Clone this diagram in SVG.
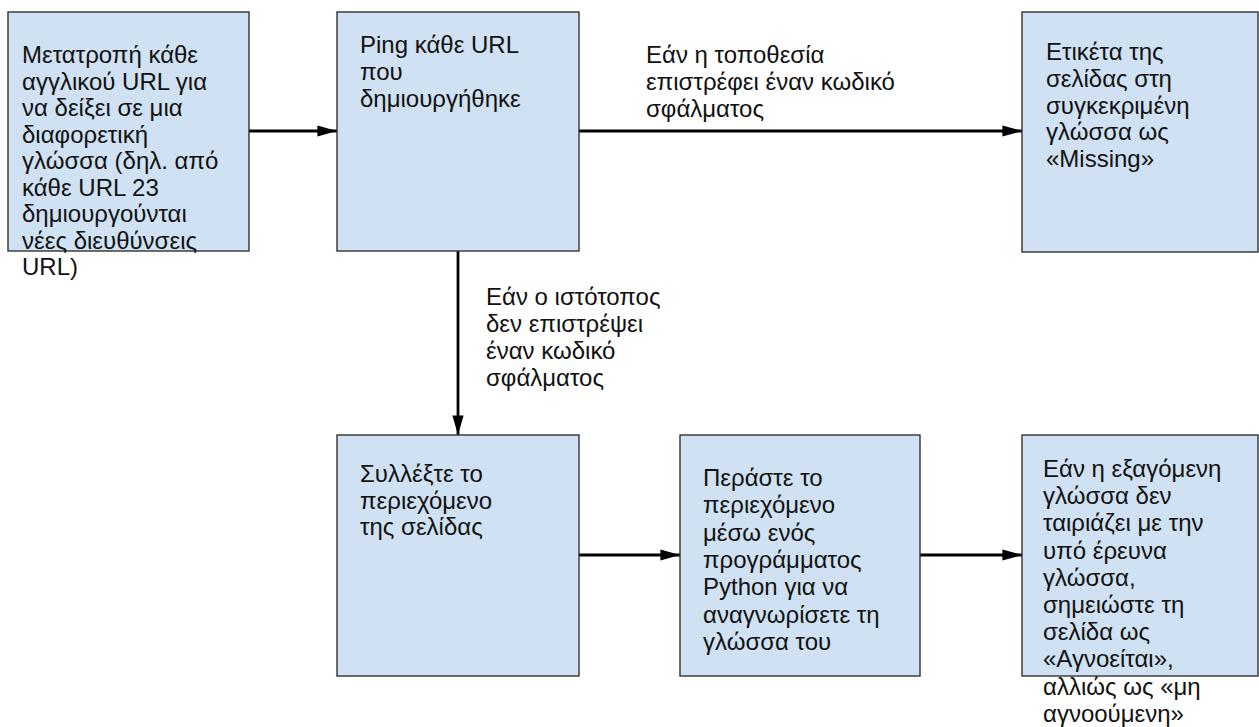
<svg xmlns="http://www.w3.org/2000/svg" width="1259" height="727" viewBox="0 0 1259 727">
<defs>
<style>
.box{fill:#cfe1f2;stroke:#333;stroke-width:1.4}
.t{font-family:"Liberation Sans",Arial,sans-serif;font-size:24px;fill:#111}
.c{stroke:#000;stroke-width:2.8;fill:none;marker-end:url(#ah)}
</style>
<marker id="ah" markerWidth="7" markerHeight="4" refX="7" refY="2" orient="auto" markerUnits="strokeWidth">
<path d="M0,0 L7,2 L0,4 Z" fill="#000"/>
</marker>
</defs>
<rect width="1259" height="727" fill="#fff"/>
<g id="connectors">
<line class="c" x1="249" y1="131" x2="337" y2="131"/>
<line class="c" x1="579" y1="131" x2="1022" y2="131"/>
<line class="c" x1="458" y1="251" x2="458" y2="435"/>
<line class="c" x1="579" y1="555" x2="680" y2="555"/>
<line class="c" x1="920" y1="555" x2="1022" y2="555"/>
<text class="t"><tspan x="646" y="63">Εάν η τοποθεσία</tspan><tspan x="646" y="90">επιστρέφει έναν κωδικό</tspan><tspan x="646" y="117">σφάλματος</tspan></text>
<text class="t"><tspan x="486" y="305">Εάν ο ιστότοπος</tspan><tspan x="486" y="332">δεν επιστρέψει</tspan><tspan x="486" y="359">έναν κωδικό</tspan><tspan x="486" y="386">σφάλματος</tspan></text>
</g>
<g id="n1">
<rect class="box" x="8" y="12" width="241" height="239"/>
<text class="t"><tspan x="22" y="63">Μετατροπή κάθε</tspan><tspan x="22" y="89.5">αγγλικού URL για</tspan><tspan x="22" y="116">να δείξει σε μια</tspan><tspan x="22" y="142.5">διαφορετική</tspan><tspan x="22" y="169">γλώσσα (δηλ. από</tspan><tspan x="22" y="195.5">κάθε URL 23</tspan><tspan x="22" y="222">δημιουργούνται</tspan><tspan x="22" y="248.5">νέες διευθύνσεις</tspan><tspan x="22" y="275">URL)</tspan></text>
</g>
<g id="n2">
<rect class="box" x="337" y="12" width="242" height="239"/>
<text class="t"><tspan x="360" y="53">Ping κάθε URL</tspan><tspan x="360" y="80">που</tspan><tspan x="360" y="107">δημιουργήθηκε</tspan></text>
</g>
<g id="n3">
<rect class="box" x="1022" y="12" width="236" height="240"/>
<text class="t"><tspan x="1046" y="60">Ετικέτα της</tspan><tspan x="1046" y="87">σελίδας στη</tspan><tspan x="1046" y="113.5">συγκεκριμένη</tspan><tspan x="1046" y="140">γλώσσα ως</tspan><tspan x="1046" y="167">«Missing»</tspan></text>
</g>
<g id="n4">
<rect class="box" x="337" y="435" width="242" height="241"/>
<text class="t"><tspan x="360" y="482">Συλλέξτε το</tspan><tspan x="360" y="508.5">περιεχόμενο</tspan><tspan x="360" y="535">της σελίδας</tspan></text>
</g>
<g id="n5">
<rect class="box" x="680" y="435" width="240" height="241"/>
<text class="t"><tspan x="703" y="486">Περάστε το</tspan><tspan x="703" y="513.3">περιεχόμενο</tspan><tspan x="703" y="540.6">μέσω ενός</tspan><tspan x="703" y="568">προγράμματος</tspan><tspan x="703" y="595.3">Python για να</tspan><tspan x="703" y="622.6">αναγνωρίσετε τη</tspan><tspan x="703" y="650">γλώσσα του</tspan></text>
</g>
<g id="n6">
<rect class="box" x="1022" y="435" width="236" height="241"/>
<text class="t"><tspan x="1043" y="477">Εάν η εξαγόμενη</tspan><tspan x="1043" y="504.2">γλώσσα δεν</tspan><tspan x="1043" y="531.4">ταιριάζει με την</tspan><tspan x="1043" y="558.6">υπό έρευνα</tspan><tspan x="1043" y="585.8">γλώσσα,</tspan><tspan x="1043" y="613">σημειώστε τη</tspan><tspan x="1043" y="640.2">σελίδα ως</tspan><tspan x="1043" y="667.4">«Αγνοείται»,</tspan><tspan x="1043" y="694.6">αλλιώς ως «μη</tspan><tspan x="1043" y="721.8">αγνοούμενη»</tspan></text>
</g>
</svg>
